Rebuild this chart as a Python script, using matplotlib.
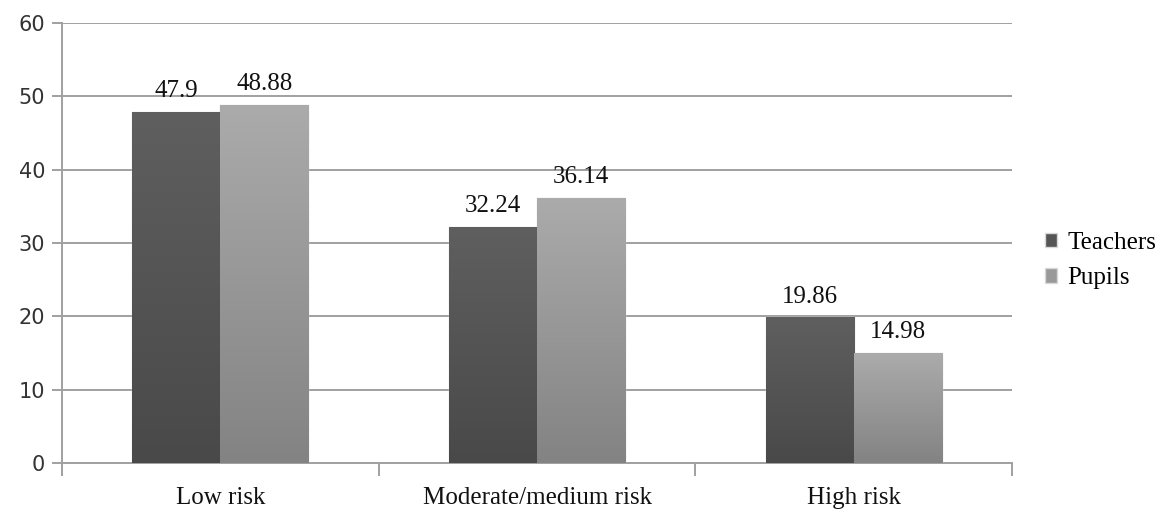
import numpy as np
import matplotlib.pyplot as plt
from matplotlib.colors import LinearSegmentedColormap

# risk levels and percentages for the two groups
categories = ["Low risk", "Moderate/medium risk", "High risk"]
teachers = [47.9, 32.24, 19.86]
pupils = [48.88, 36.14, 14.98]
value_labels_t = ["47.9", "32.24", "19.86"]
value_labels_p = ["48.88", "36.14", "14.98"]

serif = "Liberation Serif"

fig = plt.figure(figsize=(11.65, 5.09), dpi=100)
ax = fig.add_axes([0.0532, 0.0904, 0.8155, 0.8644])

x = np.arange(len(categories))
w = 0.278

# top -> bottom gradients for each series
grad_t = LinearSegmentedColormap.from_list("t", ["#494949", "#5f5f5f"])
grad_p = LinearSegmentedColormap.from_list("p", ["#838383", "#ababab"])

def gradient_bars(xpos, vals, cmap, label, solid):
    bars = ax.bar(xpos, vals, w, color=solid, edgecolor="#d8d8d8",
                  linewidth=1.0, label=label, zorder=3)
    for b in bars:
        x0, y0 = b.get_x(), b.get_y()
        img = ax.imshow(np.linspace(0, 1, 256).reshape(-1, 1), cmap=cmap,
                        origin="lower", aspect="auto",
                        extent=[x0, x0 + b.get_width(), y0, y0 + b.get_height()],
                        zorder=3.5)
        img.set_clip_path(b)
    return bars

bt = gradient_bars(x - w / 2, teachers, grad_t, "Teachers", "#555555")
bp = gradient_bars(x + w / 2, pupils, grad_p, "Pupils", "#999999")

for bars, labels in ((bt, value_labels_t), (bp, value_labels_p)):
    for b, lab in zip(bars, labels):
        ax.annotate(lab, (b.get_x() + b.get_width() / 2, b.get_height()),
                    xytext=(0, 7), textcoords="offset points",
                    ha="center", va="bottom", fontsize=18, family=serif,
                    color="#111111", zorder=5)

ax.set_xlim(-0.5, 2.5)
ax.set_ylim(0, 60)
ax.set_yticks(range(0, 61, 10))
ax.yaxis.grid(True, color="#a0a0a0", linewidth=1.4, zorder=0)
ax.set_axisbelow(True)

# category labels between boundary ticks
ax.set_xticks([-0.5, 0.5, 1.5, 2.5])
ax.set_xticklabels([])
ax.set_xticks(x, minor=True)
ax.set_xticklabels(categories, minor=True, fontsize=18, family=serif,
                   color="#111111")
ax.tick_params(axis="x", which="major", length=9, width=1.4, color="#a0a0a0")
ax.tick_params(axis="x", which="minor", length=0, pad=17)
ax.tick_params(axis="y", length=7, width=1.4, color="#a0a0a0",
               labelsize=15, labelcolor="#333333", pad=5)

for s in ("top", "right"):
    ax.spines[s].set_visible(False)
for s in ("left", "bottom"):
    ax.spines[s].set_color("#a0a0a0")
    ax.spines[s].set_linewidth(1.4)

leg = ax.legend(loc="center left", bbox_to_anchor=(1.024, 0.46),
                borderaxespad=0, frameon=False,
                prop={"family": serif, "size": 18},
                handlelength=0.5, handleheight=0.5, handletextpad=0.4,
                labelspacing=0.55)

fig.savefig("out.png", dpi=100)
